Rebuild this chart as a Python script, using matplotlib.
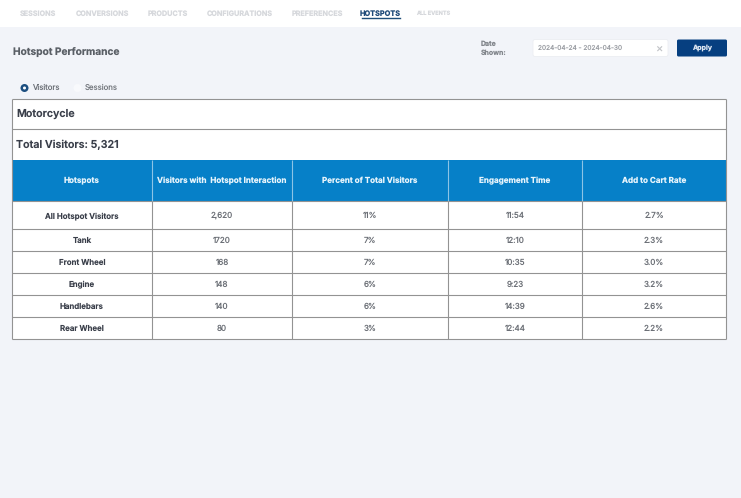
#! /usr/bin/env python3
import matplotlib
matplotlib.use("Agg")
import matplotlib.pyplot as plt
from matplotlib.patches import Circle, FancyBboxPatch, Rectangle

W = 741
H = 498
BG = "#f2f4f9"
LINE = "#939393"
HEAD_BLUE = "#0680c8"
DARK = "#3a3f4a"
MID = "#6a6e75"

nav_labels = ["SESSIONS", "CONVERSIONS", "PRODUCTS", "CONFIGURATIONS", "PREFERENCES", "HOTSPOTS", "ALL EVENTS"]
columns = ["Hotspots", "Visitors with  Hotspot Interaction", "Percent of Total Visitors", "Engagement Time", "Add to Cart Rate"]
hotspots = ["All Hotspot Visitors", "Tank", "Front Wheel", "Engine", "Handlebars", "Rear Wheel"]
visitors = ["2,620", "1720", "168", "148", "140", "80"]
percent = ["11%", "7%", "7%", "6%", "6%", "3%"]
engagement = ["11:54", "12:10", "10:35", "9:23", "14:39", "12:44"]
cart_rate = ["2.7%", "2.3%", "3.0%", "3.2%", "2.6%", "2.2%"]

NAV_X = [38.5, 102.5, 168, 239.5, 317, 380.5, 433]
NAV_SIZE = [5.2, 5.2, 5.2, 5.2, 5.2, 5.3, 4.0]
COL_X = [12, 152, 292, 448, 582, 726]
ROW_Y = [201, 229, 251, 273, 295, 317, 339]
TOP_Y = [99, 129, 160]

plt.rcParams["font.family"] = ["Inter", "DejaVu Sans"]
plt.rcParams["text.hinting"] = "no_hinting"

fig = plt.figure(figsize=(W / 100, H / 100), dpi=100, facecolor=BG)
ax = fig.add_axes([0, 0, 1, 1])
ax.set_xlim(0, W)
ax.set_ylim(H, 0)
ax.axis("off")

# top nav
ax.add_patch(Rectangle((0, 0), W, 27, fc="white", ec="none"))
for x, size, label in zip(NAV_X, NAV_SIZE, nav_labels):
    active = label == "HOTSPOTS"
    ax.text(x, 13.5, label, ha="center", va="center", fontsize=size,
            fontweight="bold", color="#1f4a78" if active else "#d6d8dc")
ax.plot([361.5, 399.5], [18, 18], color="#1f4e79", lw=1)

ax.text(13, 52, "Hotspot Performance", ha="left", va="center", fontsize=7.3, fontweight="bold", color="#5a5f66")

# radio buttons
ax.add_patch(Circle((24.5, 88), 4, fc="#1d4f80", ec="none"))
ax.add_patch(Circle((24.5, 88), 1.5, fc="white", ec="none"))
ax.text(32, 87.5, "Visitors", ha="left", va="center", fontsize=5.6, color="#6a6e75")
ax.add_patch(Circle((77.5, 88), 4, fc="#f8f9fc", ec="none"))
ax.text(85, 87.5, "Sessions", ha="left", va="center", fontsize=5.6, color="#74787e")

# date filter
ax.text(481, 43.5, "Date", ha="left", va="center", fontsize=5, fontweight="bold", color="#83878d")
ax.text(481, 52.5, "Shown:", ha="left", va="center", fontsize=5, fontweight="bold", color="#83878d")
ax.add_patch(FancyBboxPatch((533, 39.5), 135, 17, boxstyle="round,pad=0,rounding_size=2", fc="white", ec="#eceef2", lw=0.6))
ax.text(538, 48, "2024-04-24 - 2024-04-30", ha="left", va="center", fontsize=4.7, color="#9a9da3")
ax.text(659, 48, "×", ha="center", va="center", fontsize=8, color="#c3c5c9")
ax.add_patch(FancyBboxPatch((677, 39.5), 50, 17, boxstyle="round,pad=0,rounding_size=1.5", fc="#063f80", ec="none"))
ax.text(702, 47.5, "Apply", ha="center", va="center", fontsize=5.0, fontweight="bold", color="#dfe8f3")

# table background and header
ax.add_patch(Rectangle((COL_X[0], TOP_Y[0]), COL_X[-1] - COL_X[0], ROW_Y[-1] - TOP_Y[0], fc="white", ec="none"))
ax.add_patch(Rectangle((COL_X[0], TOP_Y[2]), COL_X[-1] - COL_X[0], ROW_Y[0] - TOP_Y[2], fc=HEAD_BLUE, ec="none"))

ax.text(16, 114, "Motorcycle", ha="left", va="center", fontsize=7.7, fontweight="semibold", color=DARK)
ax.text(16, 144.5, "Total Visitors: 5,321", ha="left", va="center", fontsize=7.7, fontweight="semibold", color=DARK)

for i, label in enumerate(columns):
    cx = (COL_X[i] + COL_X[i + 1]) / 2
    ax.text(cx, 180.5, label, ha="center", va="center", fontsize=5.8, fontweight="bold", color="#e6f4fc")

table_cols = [hotspots, visitors, percent, engagement, cart_rate]
for i, values in enumerate(table_cols):
    cx = (COL_X[i] + COL_X[i + 1]) / 2
    for j, value in enumerate(values):
        cy = (ROW_Y[j] + ROW_Y[j + 1]) / 2 + 0.6
        if i == 0:
            ax.text(cx, cy, value, ha="center", va="center", fontsize=5.7, fontweight="semibold", color=DARK)
        else:
            ax.text(cx, cy, value, ha="center", va="center", fontsize=5.8, color=MID)

# grid lines
left, right = COL_X[0], COL_X[-1]
for y in TOP_Y[:2] + ROW_Y:
    ax.plot([left, right], [y, y], color=LINE, lw=0.8, solid_capstyle="butt")
for x in (left, right):
    ax.plot([x, x], [TOP_Y[0], ROW_Y[-1]], color=LINE, lw=0.8, solid_capstyle="butt")
for x in COL_X[1:-1]:
    ax.plot([x, x], [TOP_Y[2], ROW_Y[0]], color="#8cc4e6", lw=0.8, solid_capstyle="butt")
    ax.plot([x, x], [ROW_Y[0], ROW_Y[-1]], color=LINE, lw=0.8, solid_capstyle="butt")

fig.savefig("out.png", dpi=100, facecolor=BG)
